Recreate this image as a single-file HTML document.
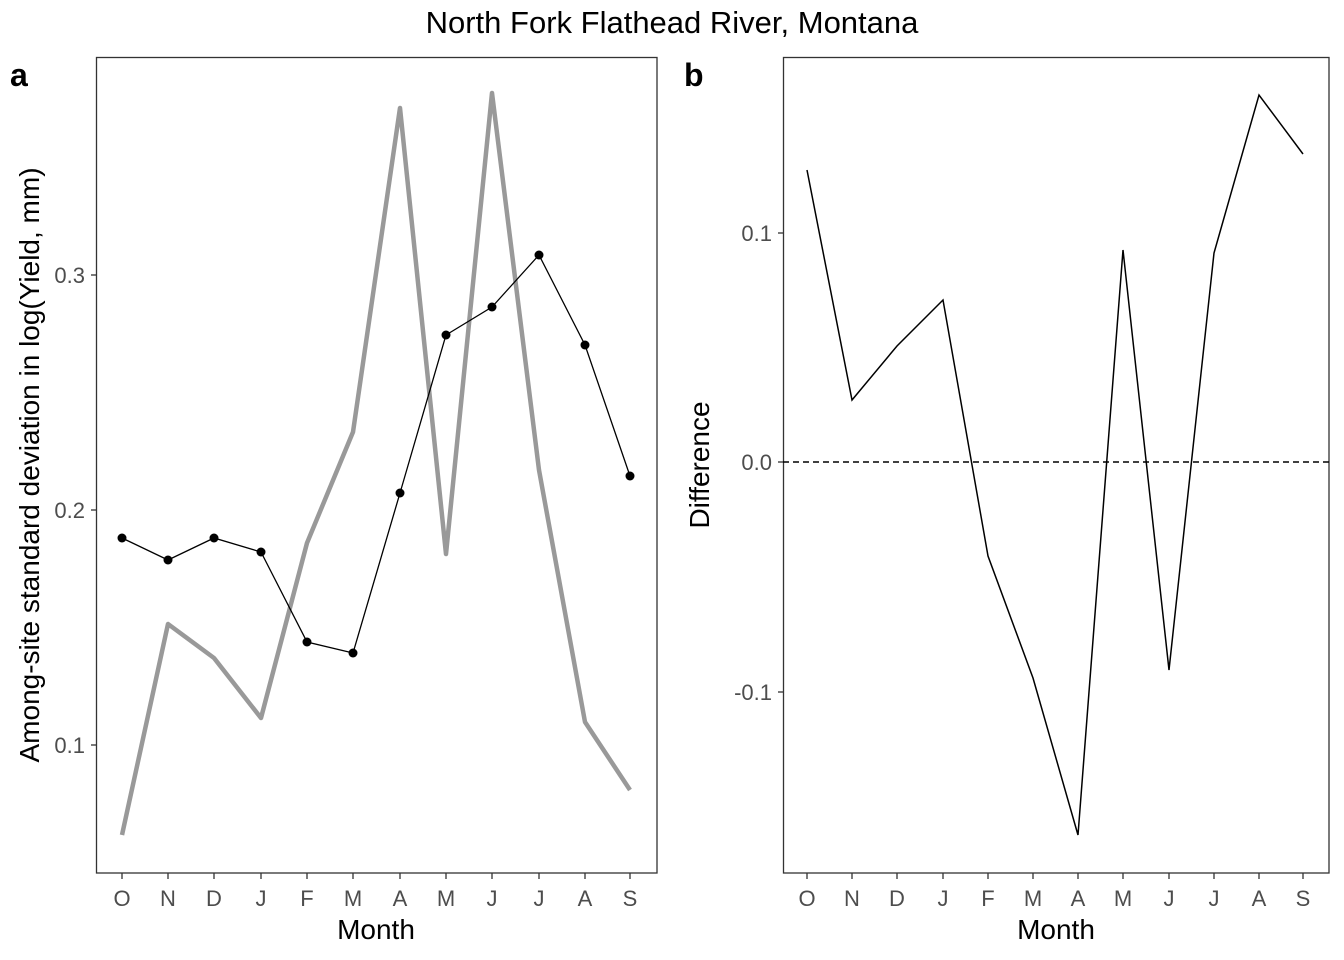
<!DOCTYPE html>
<html><head><meta charset="utf-8"><style>
html,body{margin:0;padding:0;background:#fff;}
svg{display:block;font-family:"Liberation Sans",Arial,sans-serif;}
.tk{fill:#4d4d4d;font-size:22px;}
.at{fill:#000;font-size:28px;}
</style></head><body>
<svg width="1344" height="960" viewBox="0 0 1344 960" xmlns="http://www.w3.org/2000/svg">
<rect width="1344" height="960" fill="#fff"/>
<text x="672" y="33" text-anchor="middle" font-size="31" fill="#000">North Fork Flathead River, Montana</text>
<text x="10" y="86" font-size="32" font-weight="bold">a</text>
<text x="684" y="86" font-size="32" font-weight="bold">b</text>

<!-- Panel a -->
<rect x="96.5" y="57.5" width="560.5" height="815.5" fill="none" stroke="#333" stroke-width="1.3"/>
<polyline fill="none" stroke="#999" stroke-width="4.5" stroke-linejoin="round" points="122,835 168,624 214,658 261,718 307,543 353,432 400,108 446,554 492,93 539,470 585,722 630,790"/>
<polyline fill="none" stroke="#000" stroke-width="1.3" points="122,538 168,560 214,538 261,552 307,642 353,653 400,493 446,335 492,307 539,255 585,345 630,476"/>
<g fill="#000">
<circle cx="122" cy="538" r="4.5"/><circle cx="168" cy="560" r="4.5"/><circle cx="214" cy="538" r="4.5"/><circle cx="261" cy="552" r="4.5"/><circle cx="307" cy="642" r="4.5"/><circle cx="353" cy="653" r="4.5"/><circle cx="400" cy="493" r="4.5"/><circle cx="446" cy="335" r="4.5"/><circle cx="492" cy="307" r="4.5"/><circle cx="539" cy="255" r="4.5"/><circle cx="585" cy="345" r="4.5"/><circle cx="630" cy="476" r="4.5"/>
</g>
<g stroke="#333" stroke-width="1.3">
<line x1="91" y1="745" x2="96" y2="745"/><line x1="91" y1="510" x2="96" y2="510"/><line x1="91" y1="275" x2="96" y2="275"/>
<line x1="122" y1="873" x2="122" y2="879"/><line x1="168" y1="873" x2="168" y2="879"/><line x1="214" y1="873" x2="214" y2="879"/><line x1="261" y1="873" x2="261" y2="879"/><line x1="307" y1="873" x2="307" y2="879"/><line x1="353" y1="873" x2="353" y2="879"/><line x1="400" y1="873" x2="400" y2="879"/><line x1="446" y1="873" x2="446" y2="879"/><line x1="492" y1="873" x2="492" y2="879"/><line x1="539" y1="873" x2="539" y2="879"/><line x1="585" y1="873" x2="585" y2="879"/><line x1="630" y1="873" x2="630" y2="879"/>
</g>
<g class="tk" text-anchor="end"><text x="85" y="753">0.1</text><text x="85" y="518">0.2</text><text x="85" y="283">0.3</text></g>
<g class="tk" text-anchor="middle">
<text x="122" y="906">O</text><text x="168" y="906">N</text><text x="214" y="906">D</text><text x="261" y="906">J</text><text x="307" y="906">F</text><text x="353" y="906">M</text><text x="400" y="906">A</text><text x="446" y="906">M</text><text x="492" y="906">J</text><text x="539" y="906">J</text><text x="585" y="906">A</text><text x="630" y="906">S</text>
</g>
<text class="at" x="376" y="939" text-anchor="middle">Month</text>
<text class="at" transform="translate(39,465) rotate(-90)" text-anchor="middle">Among-site standard deviation in log(Yield, mm)</text>

<!-- Panel b -->
<rect x="783.5" y="57.5" width="545.5" height="815.5" fill="none" stroke="#333" stroke-width="1.3"/>
<line x1="783" y1="462" x2="1329" y2="462" stroke="#000" stroke-width="1.5" stroke-dasharray="6,4"/>
<polyline fill="none" stroke="#000" stroke-width="1.5" points="807,170 852,400 897,346 943,300 988,556 1033,678 1078,835 1123,250 1169,670 1214,253 1259,95 1303,154"/>
<g stroke="#333" stroke-width="1.3">
<line x1="778" y1="233" x2="783" y2="233"/><line x1="778" y1="462" x2="783" y2="462"/><line x1="778" y1="692" x2="783" y2="692"/>
<line x1="807" y1="873" x2="807" y2="879"/><line x1="852" y1="873" x2="852" y2="879"/><line x1="897" y1="873" x2="897" y2="879"/><line x1="943" y1="873" x2="943" y2="879"/><line x1="988" y1="873" x2="988" y2="879"/><line x1="1033" y1="873" x2="1033" y2="879"/><line x1="1078" y1="873" x2="1078" y2="879"/><line x1="1123" y1="873" x2="1123" y2="879"/><line x1="1169" y1="873" x2="1169" y2="879"/><line x1="1214" y1="873" x2="1214" y2="879"/><line x1="1259" y1="873" x2="1259" y2="879"/><line x1="1303" y1="873" x2="1303" y2="879"/>
</g>
<g class="tk" text-anchor="end"><text x="772" y="241">0.1</text><text x="772" y="470">0.0</text><text x="772" y="700">-0.1</text></g>
<g class="tk" text-anchor="middle">
<text x="807" y="906">O</text><text x="852" y="906">N</text><text x="897" y="906">D</text><text x="943" y="906">J</text><text x="988" y="906">F</text><text x="1033" y="906">M</text><text x="1078" y="906">A</text><text x="1123" y="906">M</text><text x="1169" y="906">J</text><text x="1214" y="906">J</text><text x="1259" y="906">A</text><text x="1303" y="906">S</text>
</g>
<text class="at" x="1056" y="939" text-anchor="middle">Month</text>
<text class="at" transform="translate(709,465) rotate(-90)" text-anchor="middle">Difference</text>
</svg>
</body></html>
